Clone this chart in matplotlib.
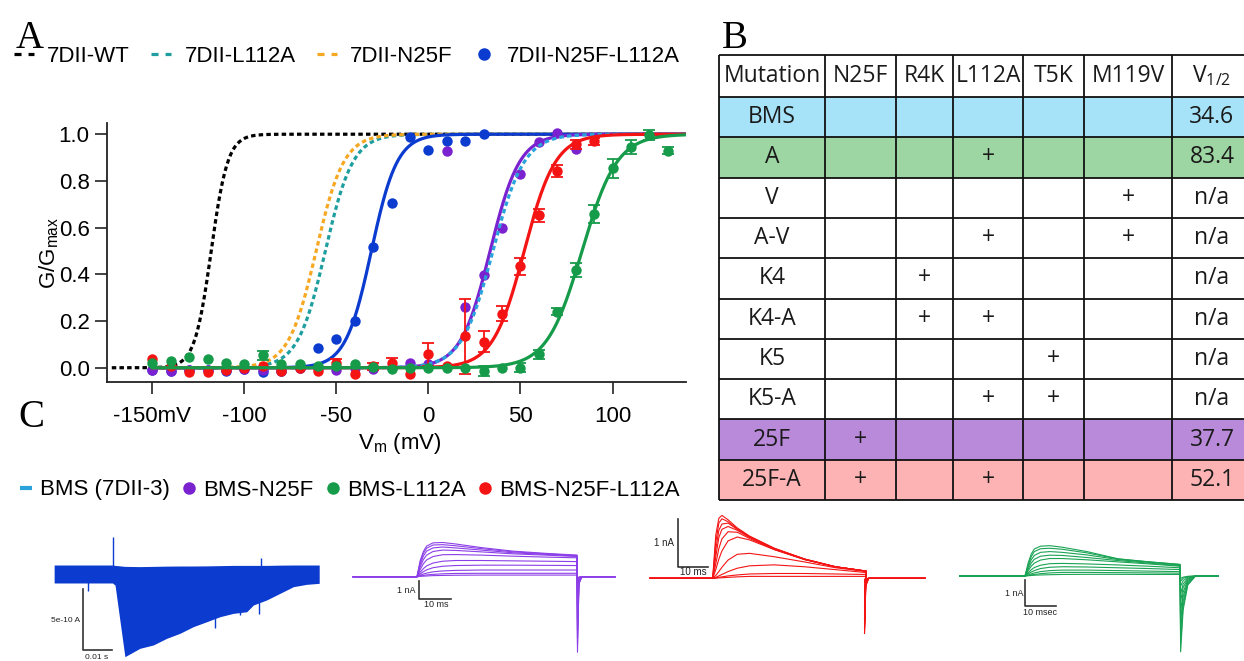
import numpy as np
import matplotlib.pyplot as plt
from matplotlib.lines import Line2D
from matplotlib.patches import Rectangle

nan = np.nan

# ---------------- panel A : G/Gmax vs Vm ----------------
volts = np.arange(-150, 131, 10)

blue_g = [-0.01, -0.014, -0.01, -0.01, -0.014, -0.007, -0.018, -0.014, 0.0, 0.085,
          0.124, 0.20, 0.518, 0.707, 0.99, 0.933, 0.969, 0.970, 0.999, nan,
          nan, nan, nan, nan, nan, nan, nan, nan, nan]
purple_g = [-0.01, -0.014, -0.01, -0.01, -0.01, -0.007, -0.01, -0.014, 0.0, 0.0,
            -0.01, 0.0, -0.007, 0.0, 0.022, 0.014, 0.93, 0.26, 0.397, 0.60,
            0.828, 0.966, 1.004, 0.936, nan, nan, nan, nan, nan]
red_g = [0.036, 0.007, -0.018, -0.018, -0.01, 0.0, 0.007, -0.014, 0.0, -0.014,
         0.021, -0.028, 0.007, 0.021, -0.028, 0.057, 0.007, 0.135, 0.111, 0.231,
         0.434, 0.652, 0.843, 0.957, 0.969, nan, nan, nan, nan]
red_err = [0, 0, 0, 0, 0, 0, 0, 0, 0, 0,
           0.018, 0, 0.015, 0.02, 0, 0.05, 0, 0.16, 0.045, 0.032,
           0.037, 0.028, 0.027, 0.02, 0.015, 0, 0, 0, 0]
green_g = [0.02, 0.03, 0.045, 0.036, 0.02, 0.017, 0.053, 0.017, 0.017, 0.007,
           0.007, 0.014, 0.004, -0.007, 0.0, 0.0, 0.0, 0.0, -0.014, 0.0,
           0.0, 0.057, 0.24, 0.42, 0.658, 0.854, 0.944, 0.997, 0.93]
green_err = [0, 0, 0, 0, 0, 0, 0.02, 0, 0, 0,
             0, 0, 0, 0, 0, 0, 0, 0, 0.02, 0,
             0.02, 0.02, 0.015, 0.03, 0.04, 0.04, 0.03, 0.02, 0.015]

# Boltzmann fits (V1/2, slope)
fit_wt = (-118, 4.5)
fit_l112a = (-56, 7.5)
fit_n25f = (-61, 7.5)
fit_n25f_l112a = (-31, 7.0)
fit_bms = (35, 8.5)
fit_bms_n25f = (33.5, 8.0)
fit_bms_n25f_l112a = (52, 8.5)
fit_bms_l112a = (83.4, 9.5)

x_ticks = [-150, -100, -50, 0, 50, 100]
x_ticklabels = ['-150mV', '-100', '-50', '0', '50', '100']

# ---------------- panel B : table ----------------
col_names = ['Mutation', 'N25F', 'R4K', 'L112A', 'T5K', 'M119V', r'$\mathregular{V_{1/2}}$']
mutants = ['BMS', 'A', 'V', 'A-V', 'K4', 'K4-A', 'K5', 'K5-A', '25F', '25F-A']
has_n25f = ['', '', '', '', '', '', '', '', '+', '+']
has_r4k = ['', '', '', '', '+', '+', '', '', '', '']
has_l112a = ['', '+', '', '+', '', '+', '', '+', '', '+']
has_t5k = ['', '', '', '', '', '', '+', '+', '', '']
has_m119v = ['', '', '+', '+', '', '', '', '', '', '']
v_half = ['34.6', '83.4', 'n/a', 'n/a', 'n/a', 'n/a', 'n/a', 'n/a', '37.7', '52.1']
row_fill = ['#a6e3f8', '#9dd5a3', 'white', 'white', 'white', 'white', 'white', 'white',
            '#b98ad9', '#fdb3b3']

# ---------------- panel C : current traces ----------------
# blue (BMS): envelope of the noisy sweep family, time in ms, current in 1e-10 A
blue_t = [-20.4, -0.3, 0.6, 4.0, 9.2, 13.8, 18.4, 23.0, 27.6, 32.2, 36.8, 41.4,
          46.0, 48.3, 52.9, 57.5, 62.1, 66.7, 71.0]
blue_lo = [-0.73, -0.73, -0.9, -6.72, -6.04, -5.77, -5.23, -4.82, -4.28, -3.88, -3.47, -3.2,
           -3.07, -2.52, -2.11, -1.57, -1.03, -0.84, -0.76]
blue_hi = [0.73, 0.73, 0.7, 0.62, 0.6, 0.62, 0.64, 0.65, 0.65, 0.66, 0.68, 0.7,
           0.7, 0.7, 0.7, 0.72, 0.73, 0.73, 0.73]
blue_spike_t = [0.0, 50.8, 35.0, 50.3, -8.8, 43.6]
blue_spike_v = [3.0, 1.28, -4.4, -3.25, -1.35, -3.3]

# sweep samples (nA) at these times (ms) from pulse onset
sweep_t = [0, 1, 2, 3, 5, 8, 12, 20, 30, 40, 50]

purple_sweeps = [
    [0, 0.9, 1.4, 1.7, 1.88, 1.9, 1.82, 1.62, 1.42, 1.3, 1.2],
    [0, 0.8, 1.3, 1.58, 1.76, 1.78, 1.72, 1.56, 1.38, 1.27, 1.18],
    [0, 0.7, 1.15, 1.42, 1.6, 1.65, 1.6, 1.48, 1.33, 1.24, 1.15],
    [0, 0.55, 0.95, 1.2, 1.4, 1.48, 1.46, 1.38, 1.27, 1.2, 1.12],
    [0, 0.4, 0.72, 0.93, 1.12, 1.22, 1.23, 1.2, 1.14, 1.09, 1.05],
    [0, 0.25, 0.45, 0.6, 0.76, 0.86, 0.9, 0.9, 0.88, 0.86, 0.84],
    [0, 0.15, 0.28, 0.38, 0.5, 0.58, 0.62, 0.64, 0.64, 0.63, 0.62],
    [0, 0.08, 0.15, 0.2, 0.27, 0.32, 0.35, 0.37, 0.37, 0.37, 0.37],
    [0, 0.04, 0.07, 0.1, 0.13, 0.16, 0.18, 0.19, 0.19, 0.19, 0.19],
    [0, 0.02, 0.03, 0.04, 0.06, 0.07, 0.08, 0.09, 0.09, 0.09, 0.09],
]
purple_tails = [-4.2, -3.8, -3.4, -3.0, -2.4, -1.7, -1.1, -0.6, -0.3, -0.15]

red_sweeps = [
    [0, 0.9, 1.25, 1.31, 1.22, 1.05, 0.88, 0.63, 0.4, 0.24, 0.15],
    [0, 0.75, 1.15, 1.24, 1.18, 1.03, 0.87, 0.62, 0.4, 0.24, 0.15],
    [0, 0.6, 1.0, 1.13, 1.15, 1.02, 0.86, 0.62, 0.4, 0.24, 0.15],
    [0, 0.45, 0.85, 1.02, 1.08, 1.0, 0.85, 0.61, 0.39, 0.24, 0.15],
    [0, 0.3, 0.62, 0.82, 0.97, 0.96, 0.83, 0.6, 0.39, 0.24, 0.15],
    [0, 0.18, 0.4, 0.57, 0.78, 0.86, 0.8, 0.6, 0.39, 0.24, 0.15],
    [0, 0.06, 0.14, 0.23, 0.38, 0.5, 0.52, 0.45, 0.34, 0.22, 0.14],
    [0, 0.02, 0.05, 0.08, 0.14, 0.21, 0.26, 0.28, 0.24, 0.18, 0.12],
    [0, 0.01, 0.02, 0.03, 0.05, 0.07, 0.09, 0.1, 0.1, 0.09, 0.08],
    [0, 0.0, 0.01, 0.01, 0.02, 0.03, 0.04, 0.04, 0.04, 0.04, 0.04],
]
red_tails = [-1.15, -1.05, -0.95, -0.85, -0.75, -0.6, -0.4, -0.25, -0.1, -0.05]

green_sweeps = [
    [0, 0.5, 0.85, 1.05, 1.16, 1.18, 1.12, 0.95, 0.67, 0.55, 0.45],
    [0, 0.42, 0.75, 0.95, 1.06, 1.08, 1.04, 0.9, 0.66, 0.55, 0.45],
    [0, 0.35, 0.63, 0.8, 0.92, 0.95, 0.92, 0.82, 0.64, 0.53, 0.43],
    [0, 0.27, 0.5, 0.65, 0.77, 0.81, 0.8, 0.72, 0.6, 0.5, 0.4],
    [0, 0.2, 0.38, 0.5, 0.62, 0.68, 0.68, 0.63, 0.55, 0.47, 0.38],
    [0, 0.12, 0.24, 0.33, 0.42, 0.48, 0.49, 0.47, 0.43, 0.38, 0.32],
    [0, 0.08, 0.15, 0.21, 0.29, 0.34, 0.36, 0.35, 0.32, 0.29, 0.25],
    [0, 0.04, 0.08, 0.12, 0.17, 0.21, 0.23, 0.23, 0.21, 0.19, 0.17],
    [0, 0.02, 0.04, 0.06, 0.09, 0.12, 0.14, 0.14, 0.13, 0.12, 0.11],
    [0, 0.01, 0.02, 0.03, 0.04, 0.05, 0.06, 0.065, 0.065, 0.06, 0.06],
]
green_tails = [-2.95, -2.6, -2.2, -1.8, -1.4, -1.0, -0.7, -0.4, -0.2, -0.1]

# tail shape after the pulse: (ms after pulse end, fraction of tail peak)
purple_tail_shape = ([0.15, 0.6, 1.5], [1.0, 0.1, 0.0])
red_tail_shape = ([0.15, 0.5, 1.5], [1.0, 0.15, 0.0])
green_tail_shape = ([0.2, 1.0, 2.5, 5.0], [1.0, 0.45, 0.12, 0.0])

BLUE = '#0b3bcf'
PURPLE = '#7a22cf'
RED = '#f41414'
GREEN = '#169b4a'
TEAL = '#1e9e9e'
ORANGE = '#f7a823'
LIGHTBLUE = '#2aa3dc'
TR_PURPLE = '#8c3fe8'
TR_GREEN = '#1aa354'

W, H = 1244, 661
plt.rcParams['font.family'] = ['Liberation Sans', 'DejaVu Sans']
plt.rcParams['axes.unicode_minus'] = False

fig = plt.figure(figsize=(W / 100, H / 100), dpi=100)


def px_box(x0, y0, x1, y1):
    return [x0 / W, 1 - y1 / H, (x1 - x0) / W, (y1 - y0) / H]


def boltz(v, p):
    return 1 / (1 + np.exp((p[0] - v) / p[1]))


# ---- A ----
ax = fig.add_axes(px_box(107, 123, 686, 382))
dash = (0, (1.4, 1.0))
vv = np.linspace(-150, 140, 500)
vw = np.linspace(-172, 140, 500)
ax.plot(vw, boltz(vw, fit_wt), color='k', lw=2.3, ls=dash)
ax.plot(vv, boltz(vv, fit_l112a), color=TEAL, lw=2.3, ls=dash)
ax.plot(vv, boltz(vv, fit_n25f), color=ORANGE, lw=2.3, ls=dash)


def series(g, err, fit, color):
    g = np.array(g, dtype=float)
    err = np.array(err, dtype=float)
    ax.plot(vv, boltz(vv, fit), color=color, lw=2.3)
    m = (err > 0) & ~np.isnan(g)
    if m.any():
        ax.errorbar(volts[m], g[m], yerr=err[m], fmt='none', ecolor=color,
                    elinewidth=1.3, capsize=4, capthick=1.3)
    ax.plot(volts, g, 'o', color=color, ms=7.5, mec='none')


series(blue_g, [0] * len(volts), fit_n25f_l112a, BLUE)
series(purple_g, [0] * len(volts), fit_bms_n25f, PURPLE)
ax.plot(vv, boltz(vv, fit_bms), color=LIGHTBLUE, lw=2.3, ls=dash)
series(red_g, red_err, fit_bms_n25f_l112a, RED)
series(green_g, green_err, fit_bms_l112a, GREEN)

ax.set_xlim(-174.6, 139.9)
ax.set_ylim(-0.061, 1.048)
ax.set_xticks(x_ticks)
ax.set_xticklabels(x_ticklabels)
ax.set_yticks([0, 0.2, 0.4, 0.6, 0.8, 1.0])
ax.set_yticklabels(['0.0', '0.2', '0.4', '0.6', '0.8', '1.0'])
ax.tick_params(direction='out', length=8.5, width=1.2, labelsize=16, color='#222222')
ax.tick_params(axis='x', pad=9)
ax.tick_params(axis='y', pad=4)
for s in ['top', 'right']:
    ax.spines[s].set_visible(False)
for s in ['left', 'bottom']:
    ax.spines[s].set_linewidth(1.3)
    ax.spines[s].set_color('#222222')
ax.set_ylabel(r'$\mathregular{G/G_{max}}$', fontsize=16)
ax.yaxis.set_label_coords(-0.08, 0.5)
ax.set_xlabel(r'$\mathregular{V_m}$ (mV)', fontsize=16)
ax.xaxis.set_label_coords(0.506, -0.19)

leg_dash = (0, (2.2, 2.2))
leg_a = [Line2D([], [], color='k', lw=2.3, ls=leg_dash),
         Line2D([], [], color=TEAL, lw=2.3, ls=leg_dash),
         Line2D([], [], color=ORANGE, lw=2.3, ls=leg_dash),
         Line2D([], [], color=BLUE, marker='o', ls='none', ms=9, mec='none')]
fig.legend(leg_a, ['7DII-WT', '7DII-L112A', '7DII-N25F', '7DII-N25F-L112A'],
           loc='center left', bbox_to_anchor=(14 / W, 1 - 56 / H), ncol=4,
           frameon=False, fontsize=16, handlelength=0.9, handletextpad=0.6,
           columnspacing=0.95, borderpad=0, borderaxespad=0)

leg_c = [Line2D([], [], color=LIGHTBLUE, marker='_', ls='none', ms=8, mew=3),
         Line2D([], [], color=PURPLE, marker='o', ls='none', ms=9, mec='none'),
         Line2D([], [], color=GREEN, marker='o', ls='none', ms=9, mec='none'),
         Line2D([], [], color=RED, marker='o', ls='none', ms=9, mec='none')]
fig.legend(leg_c, ['BMS (7DII-3)', 'BMS-N25F', 'BMS-L112A', 'BMS-N25F-L112A'],
           loc='center left', bbox_to_anchor=(18 / W, 1 - 490 / H), ncol=4,
           frameon=False, fontsize=16, handlelength=0.7, handletextpad=0.3,
           columnspacing=0.5, borderpad=0, borderaxespad=0)

# ---- overlay for table and panel letters ----
ov = fig.add_axes([0, 0, 1, 1])
ov.set_xlim(0, W)
ov.set_ylim(H, 0)
ov.axis('off')

for letter, (lx, ly) in zip('ABC', [(16, 48), (722, 48), (18, 427)]):
    ov.text(lx, ly, letter, fontsize=28, family='Liberation Serif', va='baseline')

col_edges = [719, 825, 896, 953, 1023, 1084, 1172, 1252]
tab_top, head_h, row_h = 55, 42, 40.3
row_edges = [tab_top, tab_top + head_h] + [tab_top + head_h + row_h * (i + 1) for i in range(len(mutants))]
for i, c in enumerate(row_fill):
    ov.add_patch(Rectangle((col_edges[0], row_edges[i + 1]), col_edges[-1] - col_edges[0], row_h,
                           facecolor=c, edgecolor='none'))
ov.hlines(row_edges, col_edges[0], col_edges[-1], color='#111111', lw=1.3)
ov.vlines(col_edges, row_edges[0], row_edges[-1], color='#111111', lw=1.3)
centers = [(a + b) / 2 for a, b in zip(col_edges[:-1], col_edges[1:])]
tkw = dict(fontsize=16.5, family='Open Sans', ha='center', va='center', color='#1a1a1a')
for cx, name in zip(centers, col_names):
    ov.text(cx, tab_top + head_h / 2, name, **tkw)
table_cols = [mutants, has_n25f, has_r4k, has_l112a, has_t5k, has_m119v, v_half]
for j, col in enumerate(table_cols):
    for i, val in enumerate(col):
        ov.text(centers[j], row_edges[i + 1] + row_h / 2, val, **tkw)


# ---- C : traces ----
def trace_axes(x0, y0, x1, y1, t0_px, i0_px, px_t, px_i):
    a = fig.add_axes(px_box(x0, y0, x1, y1))
    a.set_xlim((x0 - t0_px) / px_t, (x1 - t0_px) / px_t)
    a.set_ylim((i0_px - y1) / px_i, (i0_px - y0) / px_i)
    a.axis('off')
    return a


def family(a, sweeps, tails, tail_shape, color, pre, post, t_end=50):
    for sw, tp in zip(sweeps, tails):
        tt = [-pre] + list(sweep_t) + [t_end + d for d in tail_shape[0]] + [post]
        ii = [0] + list(sw) + [tp * f for f in tail_shape[1]] + [0]
        a.plot(tt, ii, color=color, lw=0.8)


def scale_bar(a, tx, iy, dt, di, lab_i, lab_t, pos_i, pos_t, fs=6.5):
    a.plot([tx, tx, tx + dt], [iy + di, iy, iy], color='#333333', lw=1.2)
    a.text(pos_i[0], pos_i[1], lab_i, ha='right', va='center', fontsize=fs, color='#222222')
    a.text(pos_t[0], pos_t[1], lab_t, ha='center', va='center', fontsize=fs, color='#222222')


ab = trace_axes(40, 505, 340, 661, 113.3, 574, 2.9, 12.3)
ab.fill_between(blue_t, blue_lo, blue_hi, color=BLUE, lw=0)
ab.vlines(blue_spike_t, 0, blue_spike_v, color=BLUE, lw=1)
scale_bar(ab, -10.6, -6.2, 10, 5, '5e-10 A', '0.01 s', (-11.3, -3.8), (-5.7, -6.78), fs=6)

ap = trace_axes(340, 505, 640, 661, 417, 576.7, 3.2, 18)
family(ap, purple_sweeps, purple_tails, purple_tail_shape, TR_PURPLE, 20, 61.9)
scale_bar(ap, 0.7, -1.24, 10, 1, '1 nA', '10 ms', (-0.5, -0.74), (6.0, -1.52))

ar = trace_axes(640, 505, 940, 661, 712.7, 578.3, 3.07, 48)
family(ar, red_sweeps, red_tails, red_tail_shape, RED, 20.4, 69.2, t_end=49.3)
scale_bar(ar, -11.4, 0.24, 10, 1, '1 nA', '10 ms', (-12.6, 0.73), (-6.4, 0.14), fs=7)

ag = trace_axes(940, 505, 1244, 661, 1025, 576, 3.1, 25.7)
family(ag, green_sweeps, green_tails, green_tail_shape, TR_GREEN, 21, 62.4)
scale_bar(ag, 0.0, -1.16, 10, 1, '1 nA', '10 msec', (-0.5, -0.67), (4.8, -1.41))

fig.savefig('out.png', dpi=100)
